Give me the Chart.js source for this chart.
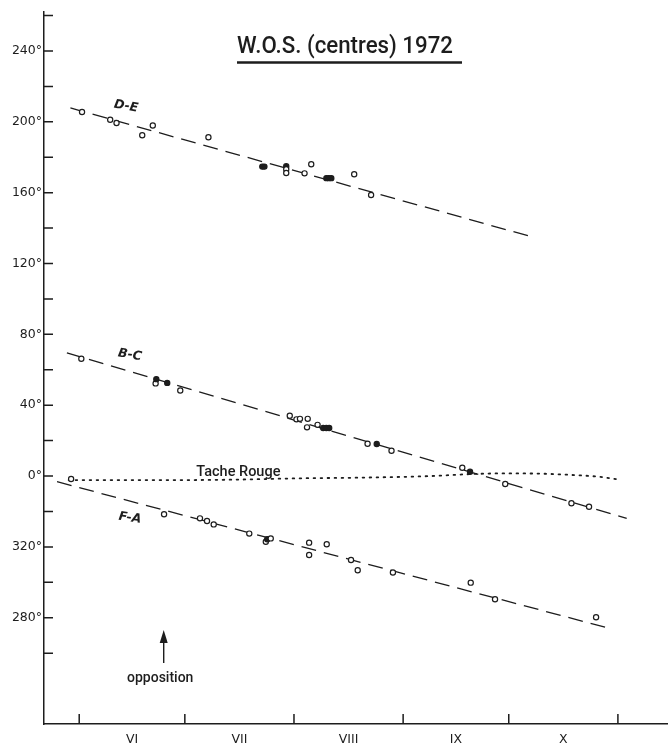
<!DOCTYPE html>
<html>
<head>
<meta charset="utf-8">
<script src="https://cdn.jsdelivr.net/npm/chart.js@4.4.1/dist/chart.umd.min.js"></script>
<style>
html,body{margin:0;padding:0;background:#fff;}
#chart{display:block;}
</style>
</head>
<body>
<canvas id="chart" width="671" height="747"></canvas>
<script>
// x = days counted from 1 June 1972, y = longitude in degrees (below 0 means 360 - x)
const deDays  = [0.8, 8.8, 10.6, 17.9, 20.9, 36.7, 52.0, 52.6, 58.8, 58.8, 58.8, 64.0, 65.9, 70.2, 70.9, 71.6, 78.1, 82.9];
const deDeg   = [205.5, 201.2, 199.3, 192.4, 197.9, 191.3, 174.7, 174.7, 174.9, 173.2, 171.1, 170.9, 176.0, 168.2, 168.2, 168.2, 170.4, 158.7];
const deSolid = [0,0,0,0,0,0,1,1,1,0,0,0,0,1,1,1,0,0];

const bcDays  = [0.6, 21.7, 21.9, 25.0, 28.7, 59.8, 61.7, 62.7, 64.9, 64.7, 67.7, 69.3, 70.2, 71.0, 81.9, 84.5, 88.7, 108.8, 111.0, 121.0, 139.8, 144.8];
const bcDeg   = [66.2, 52.3, 54.7, 52.6, 48.3, 34.0, 32.0, 32.3, 32.3, 27.5, 28.9, 27.1, 27.1, 27.1, 18.2, 18.1, 14.3, 4.7, 2.4, -4.5, -15.4, -17.3];
const bcSolid = [0,0,1,1,0,0,0,0,0,0,0,1,1,1,0,1,0,0,1,0,0,0];

const faDays  = [24.1, 34.3, 36.3, 38.2, 48.3, 53.0, 53.4, 54.4, 65.3, 65.3, 70.3, 77.2, 79.1, 89.1, 111.2, 118.1, 146.8];
const faDeg   = [-21.6, -23.9, -25.4, -27.3, -32.5, -37.1, -35.7, -35.2, -37.6, -44.6, -38.5, -47.4, -53.2, -54.5, -60.2, -69.6, -79.7];
const faSolid = [0,0,0,0,0,0,1,0,0,0,0,0,0,0,0,0,0];

// drift lines drawn through each group
const deFitDays = [-2.5, 129.2];  const deFitDeg = [207.8, 134.7];
const bcFitDays = [-3.5, 155.5];  const bcFitDeg = [69.6, -23.9];
const faFitDays = [-6.3, 150.4];  const faFitDeg = [-3.2, -85.9];

// red spot
const trDays = [-3, 25, 45, 62, 80, 100, 110, 120, 130, 138, 147, 152.7];
const trDeg  = [-2.3, -2.3, -2.0, -1.3, -0.9, 0, 1.0, 1.5, 1.4, 0.8, -0.3, -1.8];
const trObsDays = [-2.3]; const trObsDeg = [-1.7];

const oppositionDay = 24;

const yTickValues = [-100, -80, -60, -40, -20, 0, 20, 40, 60, 80, 100, 120, 140, 160, 180, 200, 220, 240, 260];
const yTickLabels = ['', '280°', '', '320°', '', '0°', '', '40°', '', '80°', '', '120°', '', '160°', '', '200°', '', '240°', ''];
const monthBounds = [0, 30, 61, 92, 122, 153];
const monthMids   = [15, 45.5, 76.5, 107, 137.5];
const monthLabels = ['VI', 'VII', 'VIII', 'IX', 'X'];

const ink = '#1d1d1d';
const tickFont = {family: 'DejaVu Sans', size: 12.5};

function pts(xs, ys) { return xs.map((d, i) => ({x: d, y: ys[i]})); }
function dots(xs, ys, solid) {
  return {
    data: pts(xs, ys), showLine: false, pointRadius: 2.6, pointHoverRadius: 2.6,
    pointBorderWidth: 1.2, pointBorderColor: ink,
    pointBackgroundColor: solid.map(s => s ? ink : '#fff')
  };
}
function fit(xs, ys) {
  return {data: pts(xs, ys), showLine: true, pointRadius: 0, borderColor: ink, borderWidth: 1.3, borderDash: [15, 8]};
}

const decor = {
  id: 'decor',
  afterDraw(chart) {
    const {ctx, chartArea, scales} = chart;
    const x = scales.x, y = scales.y;
    ctx.save();
    ctx.strokeStyle = ink; ctx.fillStyle = ink; ctx.lineWidth = 1.5;
    ctx.beginPath();
    yTickValues.forEach(v => {
      const py = y.getPixelForValue(v);
      ctx.moveTo(chartArea.left, py); ctx.lineTo(chartArea.left + 9, py);
    });
    monthBounds.forEach(d => {
      const px = x.getPixelForValue(d);
      ctx.moveTo(px, chartArea.bottom); ctx.lineTo(px, chartArea.bottom - 10);
    });
    ctx.stroke();

    // title
    const title = 'W.O.S. (centres) 1972';
    ctx.font = '500 24px Roboto';
    const w = ctx.measureText(title).width;
    ctx.save();
    ctx.translate(237, 53);
    ctx.scale(216 / w, 1);
    ctx.textBaseline = 'alphabetic'; ctx.textAlign = 'left';
    ctx.fillText(title, 0, 0);
    ctx.restore();
    ctx.lineWidth = 2.6;
    ctx.beginPath(); ctx.moveTo(237, 62.5); ctx.lineTo(462, 62.5); ctx.stroke();

    // group names
    function label(text, d, v, ang, font) {
      ctx.save();
      ctx.translate(x.getPixelForValue(d), y.getPixelForValue(v));
      ctx.rotate(ang * Math.PI / 180);
      ctx.font = font; ctx.textAlign = 'center'; ctx.textBaseline = 'middle';
      ctx.fillText(text, 0, 0);
      ctx.restore();
    }
    label('D-E', 13.3, 208.7, 10, 'italic bold 12.5px "DejaVu Sans"');
    label('B-C', 14.4, 68.3, 10, 'italic bold 12.5px "DejaVu Sans"');
    label('F-A', 14.4, -23.7, 8, 'italic bold 12.5px "DejaVu Sans"');
    label('Tache Rouge', 45.2, 2.3, 0, '500 14.5px Roboto');
    label('opposition', oppositionDay - 1, -114.5, 0, '500 14px Roboto');

    // opposition arrow
    const ax = x.getPixelForValue(oppositionDay);
    const tip = y.getPixelForValue(-86.9), base = y.getPixelForValue(-105.5);
    ctx.lineWidth = 1.4;
    ctx.beginPath(); ctx.moveTo(ax, base); ctx.lineTo(ax, tip + 8); ctx.stroke();
    ctx.beginPath(); ctx.moveTo(ax, tip); ctx.lineTo(ax - 4, tip + 13); ctx.lineTo(ax + 4, tip + 13); ctx.closePath(); ctx.fill();
    ctx.restore();
  }
};

new Chart(document.getElementById('chart'), {
  type: 'scatter',
  data: {
    datasets: [
      dots(deDays, deDeg, deSolid),
      dots(bcDays, bcDeg, bcSolid),
      dots(faDays, faDeg, faSolid),
      dots(trObsDays, trObsDeg, [0]),
      fit(deFitDays, deFitDeg),
      fit(bcFitDays, bcFitDeg),
      fit(faFitDays, faFitDeg),
      {data: pts(trDays, trDeg), showLine: true, pointRadius: 0, borderColor: ink, borderWidth: 1.8,
       borderDash: [1.6, 5.4], borderCapStyle: 'round', cubicInterpolationMode: 'monotone'}
    ]
  },
  options: {
    responsive: false,
    animation: false,
    layout: {padding: {top: 12, left: 0, right: -4, bottom: 0}},
    plugins: {legend: {display: false}, tooltip: {enabled: false}},
    scales: {
      x: {
        type: 'linear', min: -10, max: 167,
        grid: {display: false, drawTicks: false},
        border: {display: true, color: ink, width: 1.5},
        afterBuildTicks: s => { s.ticks = monthMids.map(v => ({value: v})); },
        afterFit: s => { s.height = 23; s.paddingLeft = 0; s.paddingRight = 0; },
        ticks: {
          autoSkip: false, maxRotation: 0, padding: 8, color: ink, font: tickFont,
          callback: v => monthLabels[monthMids.indexOf(v)]
        }
      },
      y: {
        type: 'linear', min: -140, max: 262,
        grid: {display: false, drawTicks: false},
        border: {display: true, color: ink, width: 1.5},
        afterBuildTicks: s => { s.ticks = yTickValues.map(v => ({value: v})); },
        afterFit: s => { s.width = 44; s.paddingTop = 0; s.paddingBottom = 0; },
        ticks: {
          autoSkip: false, padding: 2, color: ink, font: tickFont,
          callback: v => yTickLabels[yTickValues.indexOf(v)]
        }
      }
    }
  },
  plugins: [decor]
});
</script>
</body>
</html>
